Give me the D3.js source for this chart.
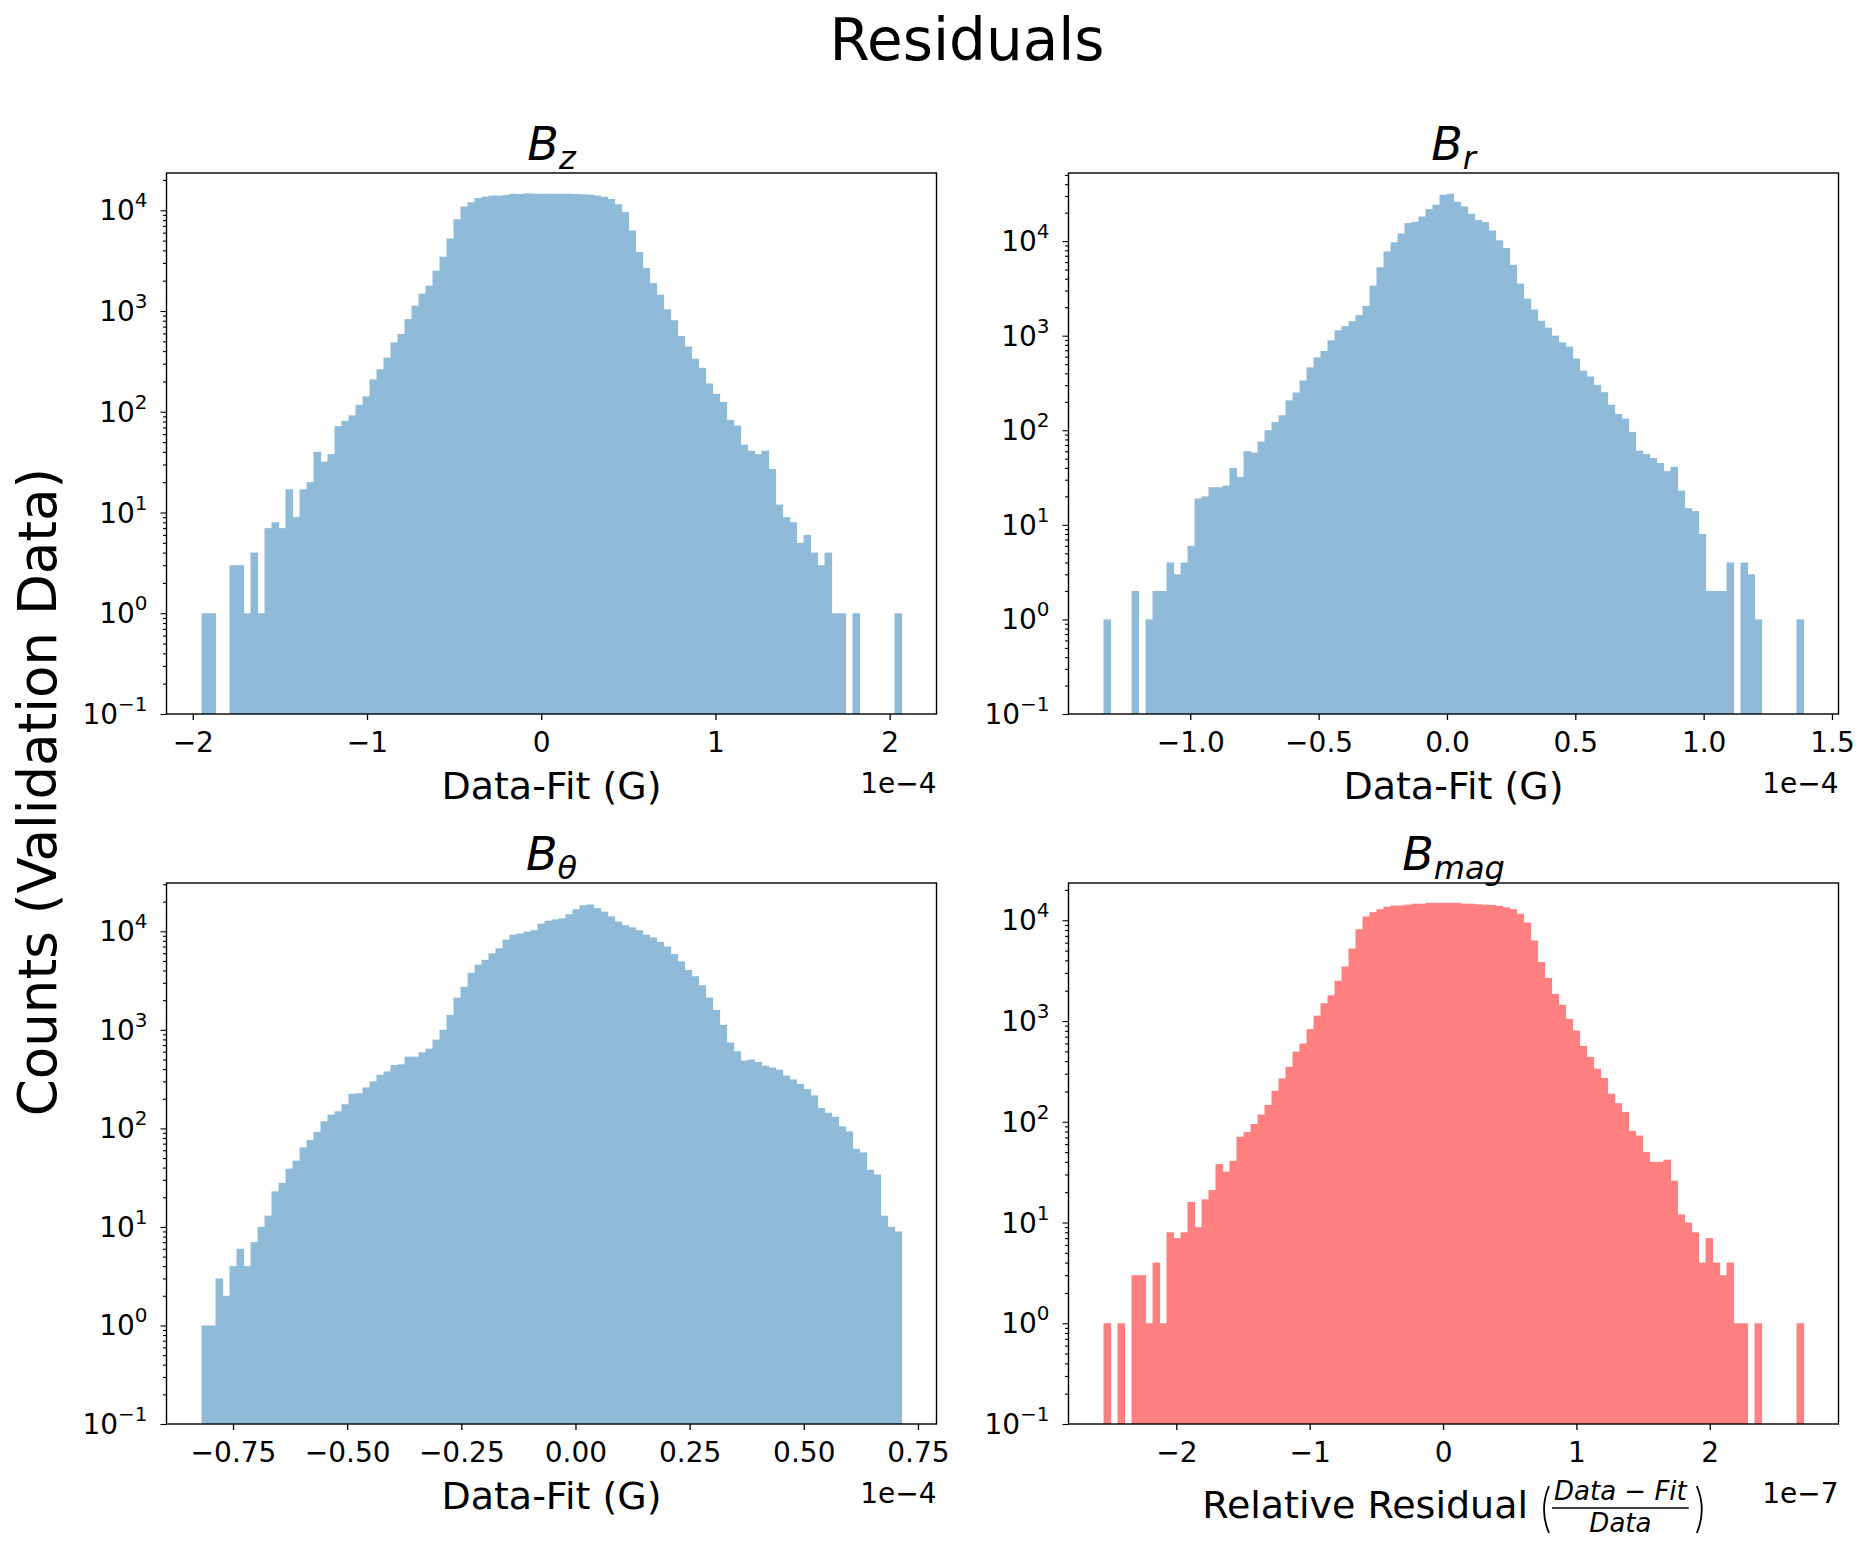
<!DOCTYPE html>
<html>
<head>
<meta charset="utf-8">
<script src="https://cdnjs.cloudflare.com/ajax/libs/d3/7.8.5/d3.min.js"></script>
<style>
body { margin:0; background:#fff; }
text { font-family:'DejaVu Sans', sans-serif; fill:#000; }
</style>
</head>
<body>
<div id="root"></div>
<script>
// Bin counts (100 equal bins per panel)
const bzCounts = [
	1,1,0,0,3,3,1,4,1,7,
	8,7,17,9,17,20,40,32,38,72,
	81,92,117,142,210,264,345,489,592,832,
	1130,1486,1785,2510,3470,5250,8150,10900,12030,13200,
	13650,14000,14000,14200,14600,14500,14700,14600,14600,14600,
	14600,14600,14600,14500,14400,14300,14000,13600,12950,11470,
	9600,6300,3840,2680,1890,1450,1040,810,565,445,
	336,273,191,151,125,83,73,47,41,38,
	41,27,12,9,8,5,6,4,3,4,
	1,1,0,1,0,0,0,0,0,1];
const brCounts = [
	1,0,0,0,2,0,1,2,2,4,
	3,4,6,19,20,25,25,26,40,32,
	60,58,76,100,122,144,207,251,336,463,
	589,689,892,1142,1259,1425,1656,2066,3388,5285,
	7800,9730,12030,15500,16000,18200,21800,24260,30900,31700,
	26000,23200,19400,16700,15850,12940,10180,8450,5620,3550,
	2466,1891,1438,1216,1000,852,767,573,427,370,
	302,253,186,149,133,96,61,56,51,45,
	37,41,23,15,14,8,2,2,2,4,
	0,4,3,1,0,0,0,0,0,1];
const bthetaCounts = [
	1,1,3,2,4,6,4,7,10,13,
	23,28,39,47,64,76,92,118,138,149,
	176,224,227,260,300,350,378,440,447,534,
	534,592,644,795,1000,1413,2123,2735,3775,4590,
	5130,5970,6720,8230,9260,9500,9910,10250,11950,12790,
	13210,13550,14900,16760,18400,18700,17200,15800,14160,12560,
	11540,10970,10250,9260,8660,7820,7010,5870,4950,4050,
	3500,2830,2125,1594,1125,743,607,487,500,471,
	433,415,394,344,314,283,250,216,161,144,
	131,105,93,62,57,38,34,13,10,9];
const bmagCounts = [
	1,0,1,0,3,3,1,4,1,8,
	7,8,16,9,17,21,38,32,41,71,
	79,95,118,147,203,269,351,497,597,832,
	1130,1500,1800,2510,3470,5250,8150,10900,12050,12880,
	13650,14000,14000,14300,14600,14600,14900,14900,14900,14900,
	14900,14600,14600,14400,14300,14200,13900,13450,12900,11600,
	9500,6300,3850,2680,1860,1450,1050,805,565,440,
	337,272,190,153,125,81,73,50,40,40,
	42,26,12,10,8,4,7,4,3,4,
	1,1,0,1,0,0,0,0,0,1];

// outer edges of first and last bin (in units of the offset text)
const bzRange = [-1.950, 2.068];
const brRange = [-1.338, 1.389];
const bthetaRange = [-0.819, 0.714];
const bmagRange = [-2.546, 2.703];

// x tick values
const bzTicks = [-2, -1, 0, 1, 2];
const brTicks = [-1, -0.5, 0, 0.5, 1, 1.5];
const bthetaTicks = [-0.75, -0.5, -0.25, 0, 0.25, 0.5, 0.75];
const bmagTicks = [-2, -1, 0, 1, 2];

// y axis: decades and top limit (log10 of count)
const yDecades = [-1, 0, 1, 2, 3, 4];
const yTopLog = [4.37, 4.72, 4.49, 4.37];

const subscripts = ['z', 'r', 'θ', 'mag'];
const offsetTexts = ['1e−4', '1e−4', '1e−4', '1e−7'];

// Define width, height and layout
let width = 1875, height = 1550;
const colLeft = [166.5, 1068.5], colWidth = 770;
const rowTop = [173, 883], rowHeight = 541;
const blue = '#8fbbd9', red = '#ff8080';
const tickFont = 28, labelFont = 38;

var svg = d3.select('#root')
	.append('svg')
	.attr('width', width)
	.attr('height', height);

const panels = [
	{counts: bzCounts, range: bzRange, ticks: bzTicks, fmt: d3.format('d'), col: 0, row: 0, color: blue},
	{counts: brCounts, range: brRange, ticks: brTicks, fmt: d3.format('.1f'), col: 1, row: 0, color: blue},
	{counts: bthetaCounts, range: bthetaRange, ticks: bthetaTicks, fmt: d3.format('.2f'), col: 0, row: 1, color: blue},
	{counts: bmagCounts, range: bmagRange, ticks: bmagTicks, fmt: d3.format('d'), col: 1, row: 1, color: red}
];

panels.forEach((p, i) => {
	let x0 = colLeft[p.col], y0 = rowTop[p.row];
	let g = svg.append('g').attr('transform', 'translate(' + [x0, y0] + ')');

	// matplotlib style 5% margins on x
	let span = p.range[1] - p.range[0];
	var xScale = d3.scaleLinear()
		.domain([p.range[0] - 0.05 * span, p.range[1] + 0.05 * span])
		.range([0, colWidth]);
	var yScale = d3.scaleLog()
		.domain([0.1, Math.pow(10, yTopLog[i])])
		.range([rowHeight, 0]);

	// bars
	let binW = span / p.counts.length;
	let bins = p.counts.map((c, k) => ({x0: p.range[0] + k * binW, x1: p.range[0] + (k + 1) * binW, c: c}));
	g.selectAll('rect.bar')
		.data(bins.filter(d => d.c > 0))
		.enter()
		.append('rect')
		.attr('x', d => xScale(d.x0))
		.attr('width', d => xScale(d.x1) - xScale(d.x0) + 0.6)
		.attr('y', d => yScale(d.c))
		.attr('height', d => rowHeight - yScale(d.c))
		.attr('fill', p.color);

	// x axis
	let xAxis = g.append('g')
		.attr('transform', 'translate(0,' + rowHeight + ')')
		.call(d3.axisBottom(xScale).tickValues(p.ticks).tickFormat(p.fmt).tickSize(6).tickPadding(12));
	xAxis.select('.domain').remove();
	xAxis.selectAll('line').attr('stroke-width', 1.3);
	xAxis.selectAll('text').attr('font-size', tickFont).attr('font-family', 'DejaVu Sans');

	// y axis, major and minor ticks
	let minors = [];
	yDecades.forEach(d => {
		for (let k = 2; k < 10; k++) {
			let v = k * Math.pow(10, d);
			if (Math.log10(v) <= yTopLog[i]) minors.push(v);
		}
	});
	let yMajor = g.append('g')
		.call(d3.axisLeft(yScale).tickValues(yDecades.map(d => Math.pow(10, d))).tickFormat('').tickSize(6));
	let yMinor = g.append('g')
		.call(d3.axisLeft(yScale).tickValues(minors).tickFormat('').tickSize(3.5));
	[yMajor, yMinor].forEach(a => {
		a.select('.domain').remove();
		a.selectAll('line').attr('stroke-width', 1.1);
	});

	// y tick labels as 10^n
	g.selectAll('text.ylab')
		.data(yDecades)
		.enter()
		.append('text')
		.attr('class', 'ylab')
		.attr('x', -19)
		.attr('y', d => yScale(Math.pow(10, d)) + 10)
		.attr('text-anchor', 'end')
		.attr('font-size', tickFont)
		.each(function(d) {
			let t = d3.select(this);
			t.append('tspan').text('10');
			t.append('tspan').attr('dy', -13).attr('font-size', 20).text(d < 0 ? '−' + (-d) : d);
		});

	// frame
	g.append('rect')
		.attr('width', colWidth)
		.attr('height', rowHeight)
		.attr('fill', 'none')
		.attr('stroke', '#000')
		.attr('stroke-width', 1.4);

	// title B_sub
	let title = g.append('text')
		.attr('x', colWidth / 2)
		.attr('y', -13)
		.attr('text-anchor', 'middle')
		.attr('font-size', 46)
		.attr('font-style', 'italic');
	title.append('tspan').text('B');
	title.append('tspan').attr('dy', 9).attr('font-size', 32).text(subscripts[i]);

	// offset text
	g.append('text')
		.attr('x', colWidth)
		.attr('y', rowHeight + 79)
		.attr('text-anchor', 'end')
		.attr('font-size', tickFont)
		.text(offsetTexts[i]);

	// x label
	if (i < 3) {
		g.append('text')
			.attr('x', colWidth / 2)
			.attr('y', rowHeight + 85)
			.attr('text-anchor', 'middle')
			.attr('font-size', labelFont)
			.text('Data-Fit (G)');
	} else {
		let lab = g.append('g');
		let main = lab.append('text').attr('font-size', labelFont).text('Relative Residual');
		let px = main.node().getComputedTextLength() + 14;
		let num = lab.append('text').attr('font-size', 26).attr('font-style', 'italic')
			.attr('text-anchor', 'middle').attr('y', -18).text('Data − Fit');
		let fw = num.node().getComputedTextLength();
		let fx = px + 12 + fw / 2;
		num.attr('x', fx);
		lab.append('text').attr('font-size', 26).attr('font-style', 'italic')
			.attr('text-anchor', 'middle').attr('x', fx).attr('y', 14).text('Data');
		lab.append('line')
			.attr('x1', fx - fw / 2 - 2).attr('x2', fx + fw / 2 + 2)
			.attr('y1', -10).attr('y2', -10)
			.attr('stroke', '#000').attr('stroke-width', 1.6);
		let rx = fx + fw / 2 + 10;
		lab.append('path')
			.attr('d', 'M' + (px + 7) + ',-32 Q' + (px - 3) + ',-8.5 ' + (px + 7) + ',15')
			.attr('fill', 'none').attr('stroke', '#000').attr('stroke-width', 1.8);
		lab.append('path')
			.attr('d', 'M' + (rx) + ',-32 Q' + (rx + 10) + ',-8.5 ' + (rx) + ',15')
			.attr('fill', 'none').attr('stroke', '#000').attr('stroke-width', 1.8);
		let total = rx + 8;
		lab.attr('transform', 'translate(' + [colWidth / 2 - total / 2, rowHeight + 94] + ')');
	}
});

// figure title and shared y label
svg.append('text')
	.attr('x', 967)
	.attr('y', 60)
	.attr('text-anchor', 'middle')
	.attr('font-size', 58)
	.text('Residuals');

svg.append('text')
	.attr('transform', 'translate(56,792) rotate(-90)')
	.attr('text-anchor', 'middle')
	.attr('font-size', 53)
	.text('Counts (Validation Data)');
</script>
</body>
</html>
